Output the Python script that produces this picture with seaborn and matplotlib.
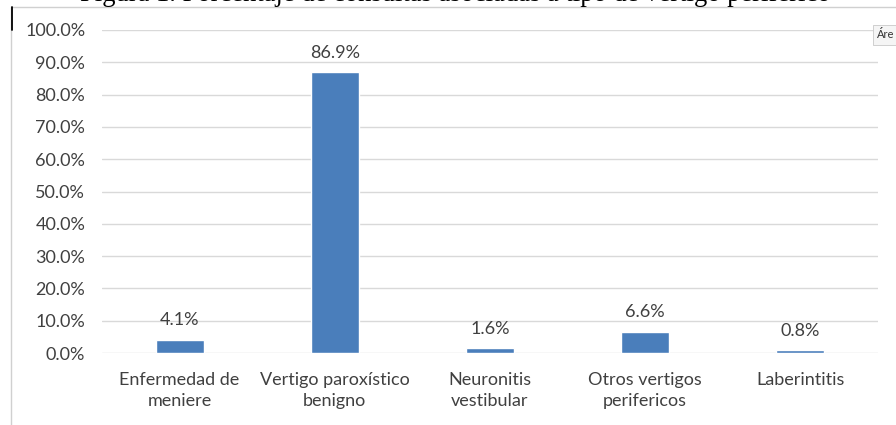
import matplotlib.pyplot as plt
import pandas as pd
import seaborn as sns
from matplotlib.patches import Rectangle
from matplotlib.lines import Line2D

categories = ["Enfermedad de\nmeniere", "Vertigo paroxístico\nbenigno", "Neuronitis\nvestibular",
              "Otros vertigos\nperifericos", "Laberintitis"]
percentages = [4.1, 86.9, 1.6, 6.6, 0.8]
yticks = [0, 10, 20, 30, 40, 50, 60, 70, 80, 90, 100]
title_text = "Figura 1. Porcentaje de consultas asociadas a tipo de vertigo periferico"

df = pd.DataFrame({"categoria": categories, "porcentaje": percentages})

sns.set_theme(style="white")
plt.rcParams['font.family'] = ['Lato', 'DejaVu Sans']

W, H = 896, 425
fig = plt.figure(figsize=(8.96, 4.25), dpi=100)
ax = fig.add_axes([102 / W, 1 - 353 / H, 776 / W, 323 / H])

sns.barplot(data=df, x="categoria", y="porcentaje", color="#4a7ebb", width=0.31,
            saturation=1, ax=ax, zorder=3)

ax.set_ylim(0, 100)
ax.set_xlim(-0.5, 4.5)
ax.set_yticks(yticks)
ax.set_yticklabels(["%.1f%%" % v for v in yticks], fontsize=13, color="#404040")
ax.tick_params(axis="x", labelsize=13, labelcolor="#404040", length=0, pad=14)
ax.tick_params(axis="y", length=0, pad=12)
for lab in ax.get_xticklabels():
    lab.set_linespacing(1.37)
ax.yaxis.grid(True, color="#d9d9d9", linewidth=1, zorder=0)
for s in ax.spines.values():
    s.set_visible(False)
ax.set_xlabel("")
ax.set_ylabel("")

for i, v in enumerate(percentages):
    ax.text(i, v + 3.5, "%.1f%%" % v, ha="center", va="bottom", fontsize=13, color="#404040")

# chart frame and marker line on the left
fig.add_artist(Rectangle((11 / W, -0.01), 0.99, 1 - 7 / H + 0.01, transform=fig.transFigure,
                         fill=False, edgecolor="#d0d0d0", linewidth=1))
fig.add_artist(Line2D([12 / W, 12 / W], [1 - 7 / H, 1 - 30 / H],
                      transform=fig.transFigure, color="black", linewidth=1.3))

# partially cut title at the top
fig.text(455 / W, 1 - 1 / H, title_text, ha="center", va="baseline", fontsize=19.2,
         family=["Liberation Serif", "DejaVu Serif"], color="black")

# small tooltip box at the right
fig.text(877 / W, 1 - 35 / H, "Áre", fontsize=8, ha="left", va="center", color="#333333",
         bbox=dict(boxstyle="square,pad=0.4", facecolor="#f5f5f5", edgecolor="#c8c8c8", linewidth=0.6))

fig.savefig("out.png", dpi=100)
